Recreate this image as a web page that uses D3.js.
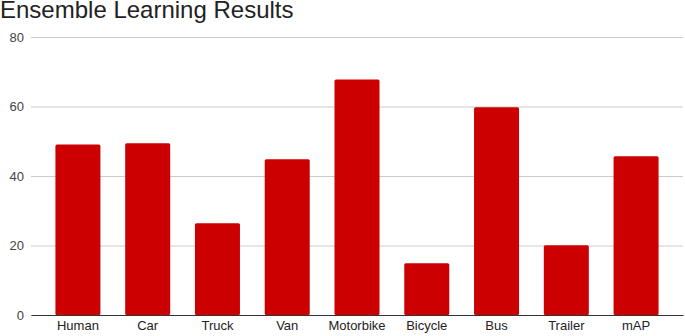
<!DOCTYPE html>
<html>
<head>
<meta charset="utf-8">
<script src="https://cdn.jsdelivr.net/npm/d3@7"></script>
<style>
  body { margin: 0; background: #fff; }
  svg { display: block; font-family: "Liberation Sans", Arial, sans-serif; }
</style>
</head>
<body>
<div id="chart"></div>
<script>
// data
const categories = ["Human", "Car", "Truck", "Van", "Motorbike", "Bicycle", "Bus", "Trailer", "mAP"];
const scores = [49.1, 49.4, 26.4, 44.8, 67.8, 14.9, 59.8, 20.1, 45.7];
const yTicks = [0, 20, 40, 60, 80];

const width = 685, height = 336;
const margin = { top: 37, right: 2, bottom: 21, left: 31 };

const svg = d3.select("#chart")
    .append("svg")
    .attr("width", width)
    .attr("height", height);

// scales
const x = d3.scaleBand()
    .domain(categories)
    .range([margin.left, width - margin.right])
    .paddingInner(0.355)
    .paddingOuter(0.35);

const y = d3.scaleLinear()
    .domain([0, 80])
    .range([height - margin.bottom, margin.top]);

// title
svg.append("text")
    .attr("x", 0)
    .attr("y", 18)
    .style("font-size", "24px")
    .style("fill", "#222")
    .text("Ensemble Learning Results");

// gridlines + y labels
const yAxis = svg.append("g")
    .attr("transform", `translate(${margin.left}, 0)`)
    .call(d3.axisLeft(y).tickValues(yTicks).tickSize(-(width - margin.left - margin.right)).tickPadding(7));

yAxis.select(".domain").remove();
yAxis.selectAll(".tick line")
    .attr("stroke", "#ccc");
yAxis.selectAll(".tick text")
    .style("font-size", "13px")
    .style("fill", "#444");

// bars
svg.selectAll(".bar")
    .data(categories)
    .enter()
    .append("rect")
    .attr("class", "bar")
    .attr("x", d => x(d))
    .attr("y", (d, i) => y(scores[i]))
    .attr("width", x.bandwidth())
    .attr("height", (d, i) => y(0) - y(scores[i]))
    .attr("rx", 1.5)
    .attr("fill", "#cc0000");

// baseline + x labels
const xAxis = svg.append("g")
    .attr("transform", `translate(0, ${y(0)})`)
    .call(d3.axisBottom(x).tickSize(0).tickPadding(6));

xAxis.select(".domain")
    .attr("stroke", "#333");
xAxis.selectAll(".tick text")
    .style("font-size", "13px")
    .style("fill", "#222");
</script>
</body>
</html>
